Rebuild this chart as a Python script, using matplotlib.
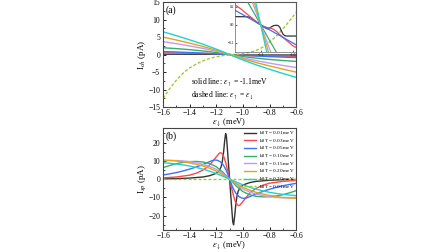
import matplotlib
matplotlib.use("Agg")
import matplotlib.pyplot as plt
from matplotlib.ticker import MultipleLocator

plt.rcParams['font.family'] = ['Liberation Serif', 'DejaVu Serif']
plt.rcParams['mathtext.fontset'] = 'stix'
plt.rcParams['axes.unicode_minus'] = True

# ---- data: panel (a), charge current ----
xa = [-1.6, -1.5, -1.4, -1.3, -1.2, -1.15, -1.1, -1.05, -1.0, -0.9, -0.8, -0.7, -0.6]
cyan_a = [6.5, 5.4, 4.2, 2.95, 1.55, 0.8, 0.0, -0.8, -1.55, -2.95, -4.2, -5.4, -6.5]
orange_a = [5.0, 4.15, 3.25, 2.3, 1.2, 0.62, 0.0, -0.62, -1.2, -2.3, -3.25, -4.15, -5.0]
purple_a = [3.7, 3.1, 2.45, 1.75, 0.92, 0.48, 0.0, -0.48, -0.92, -1.75, -2.45, -3.1, -3.7]
green_a = [1.95, 1.7, 1.4, 1.02, 0.58, 0.31, 0.0, -0.31, -0.58, -1.02, -1.4, -1.7, -1.95]
blue_a = [0.85, 0.73, 0.58, 0.4, 0.2, 0.1, 0.0, -0.1, -0.2, -0.4, -0.58, -0.73, -0.85]

x_red_a = [-1.6, -1.5, -1.4, -1.3, -1.2, -1.18, -1.16, -1.14, -1.12, -1.11, -1.1, -1.09,
           -1.08, -1.07, -1.06, -1.05, -1.04, -1.02, -1.0, -0.98, -0.9, -0.8, -0.7, -0.6]
red_a = [0.5, 0.46, 0.41, 0.34, 0.25, 0.22, 0.17, 0.11, 0.05, 0.02, 0.0, -0.02,
         -0.03, -0.035, -0.05, -0.075, -0.11, -0.17, -0.23, -0.27, -0.34, -0.41, -0.46, -0.5]

x_black_a = [-1.6, -1.3, -1.18, -1.14, -1.13, -1.12, -1.11, -1.1, -1.09, -1.08, -1.07,
             -1.06, -1.05, -1.045, -1.04, -1.035, -1.03, -1.025, -1.02, -0.6]
black_a = [0.1, 0.095, 0.09, 0.088, 0.08, 0.05, 0.025, 0.0, -0.025, -0.045, -0.03,
           -0.01, -0.005, -0.01, -0.03, -0.07, -0.105, -0.12, -0.124, -0.13]

x_dash_a = [-1.6, -1.55, -1.5, -1.45, -1.4, -1.35, -1.3, -1.25, -1.2, -1.15, -1.1,
            -1.05, -1.0, -0.95, -0.9, -0.85, -0.8, -0.75, -0.7, -0.65, -0.6]
dash_a = [-12.5, -9.7, -7.3, -5.3, -3.8, -2.7, -1.8, -1.1, -0.65, -0.3, -0.1,
          0.05, 0.25, 0.6, 1.2, 2.1, 3.6, 5.2, 7.3, 9.6, 12.0]

# ---- data: panel (b), spin current ----
xb = [-1.6, -1.55, -1.5, -1.45, -1.4, -1.35, -1.3, -1.25, -1.2, -1.15, -1.1,
      -1.05, -1.0, -0.95, -0.9, -0.85, -0.8, -0.75, -0.7, -0.65, -0.6]
green_b = [6.3, 7.5, 8.5, 9.2, 9.6, 9.7, 9.4, 8.5, 6.8, 3.8, 0.0,
           -3.8, -6.8, -8.5, -9.4, -9.7, -9.6, -9.2, -8.5, -7.5, -6.3]
purple_b = [10.0, 10.2, 10.2, 10.0, 9.6, 9.0, 8.1, 7.0, 5.4, 3.0, 0.0,
            -3.0, -5.4, -7.0, -8.1, -9.0, -9.6, -10.0, -10.2, -10.2, -10.0]
orange_b = [10.5, 10.3, 10.0, 9.5, 8.9, 8.1, 7.2, 6.0, 4.4, 2.4, 0.0,
            -2.4, -4.4, -6.0, -7.2, -8.1, -8.9, -9.5, -10.0, -10.3, -10.5]
cyan_b = [9.0, 8.7, 8.3, 7.8, 7.2, 6.4, 5.5, 4.4, 3.1, 1.6, 0.0,
          -1.6, -3.1, -4.4, -5.5, -6.4, -7.2, -7.8, -8.3, -8.7, -9.0]

x_blue_b = [-1.6, -1.55, -1.5, -1.45, -1.4, -1.35, -1.3, -1.26, -1.23, -1.21, -1.19,
            -1.17, -1.15, -1.13, -1.115, -1.1, -1.085, -1.07, -1.05, -1.03, -1.01,
            -0.99, -0.97, -0.94, -0.9, -0.85, -0.8, -0.75, -0.7, -0.65, -0.6]
blue_b = [2.3, 2.9, 3.6, 4.5, 5.5, 6.7, 8.0, 9.3, 10.2, 10.5, 10.3,
          9.5, 8.0, 5.6, 3.0, 0.0, -3.0, -5.6, -8.0, -9.5, -10.3,
          -10.5, -10.2, -9.3, -8.0, -6.7, -5.5, -4.5, -3.6, -2.9, -2.3]

x_red_b = [-1.6, -1.5, -1.4, -1.35, -1.3, -1.26, -1.23, -1.2, -1.18, -1.17, -1.16,
           -1.15, -1.14, -1.13, -1.12, -1.11, -1.1, -1.09, -1.08, -1.07, -1.06,
           -1.05, -1.04, -1.03, -1.02, -1.0, -0.97, -0.94, -0.9, -0.85, -0.8, -0.7, -0.6]
red_b = [0.7, 1.2, 2.2, 3.3, 5.0, 7.0, 9.5, 12.2, 14.0, 14.5, 14.2,
         13.2, 11.6, 9.2, 6.3, 3.2, 0.0, -3.2, -6.3, -9.2, -11.6,
         -13.2, -14.2, -14.5, -14.0, -12.2, -9.5, -7.0, -5.0, -3.3, -2.2, -1.2, -0.7]

x_black_b = [-1.6, -1.5, -1.4, -1.3, -1.25, -1.2, -1.18, -1.165, -1.155, -1.145, -1.137,
             -1.13, -1.124, -1.117, -1.11, -1.105, -1.1, -1.095, -1.09, -1.083, -1.076,
             -1.07, -1.063, -1.055, -1.045, -1.035, -1.02, -1.0, -0.95, -0.9, -0.8, -0.7, -0.6]
black_b = [0.2, 0.3, 0.6, 1.2, 1.9, 3.2, 4.5, 6.5, 9.5, 15, 21,
           25, 23.5, 17, 10, 5, 0, -5, -10, -17, -23.5,
           -25, -21, -15, -9.5, -6.5, -4.5, -3.2, -1.9, -1.2, -0.6, -0.3, -0.2]

x_dash_b = [-1.6, -0.6]
dash_b = [0.0, 0.0]

kt_labels = ["0.01", "0.03", "0.05", "0.10", "0.15", "0.20", "0.30", "0.01"]
colors = ["#333333", "#ff4646", "#3a72ff", "#35b06a", "#c49af0", "#e2a41c", "#1fd2d2", "#99cc33"]
dash_style = (0, (2.2, 1.4))

fig = plt.figure(figsize=(4.48, 2.52), dpi=100)
ax_a = fig.add_axes([0.364, 0.575, 0.297, 0.417])
ax_b = fig.add_axes([0.364, 0.086, 0.297, 0.406])

solid_a = [(x_black_a, black_a), (x_red_a, red_a), (xa, blue_a), (xa, green_a),
           (xa, purple_a), (xa, orange_a), (xa, cyan_a)]
for (xs, ys), c in zip(solid_a, colors):
    ax_a.plot(xs, ys, color=c, lw=1.0)
ax_a.plot(x_dash_a, dash_a, color=colors[7], lw=1.0, ls=dash_style)

solid_b = [(x_black_b, black_b), (x_red_b, red_b), (x_blue_b, blue_b), (xb, green_b),
           (xb, purple_b), (xb, orange_b), (xb, cyan_b)]
for (xs, ys), c, kt in zip(solid_b, colors, kt_labels):
    ax_b.plot(xs, ys, color=c, lw=1.0, label=r"k$_B$T = %s meV" % kt)
ax_b.plot(x_dash_b, dash_b, color=colors[7], lw=1.0, ls=dash_style,
          label=r"k$_B$T = %s meV" % kt_labels[7])

for ax in (ax_a, ax_b):
    ax.set_xlim(-1.6, -0.6)
    ax.xaxis.set_major_locator(MultipleLocator(0.2))
    ax.xaxis.set_minor_locator(MultipleLocator(0.1))
    ax.tick_params(which='both', direction='in', labelsize=5.5)
    ax.tick_params(axis='x', pad=1.2)
    ax.tick_params(axis='y', pad=2.2)
    ax.tick_params(which='major', length=2.2, width=0.6)
    ax.tick_params(which='minor', length=1.3, width=0.5)
    for s in ax.spines.values():
        s.set_linewidth(0.8)
        s.set_color("#444444")
    ax.set_xlabel(r"$\varepsilon_{\downarrow}$ (meV)", fontsize=6.0, labelpad=0.2)

ax_a.set_ylim(-15, 15)
ax_a.yaxis.set_major_locator(MultipleLocator(5))
ax_a.yaxis.set_minor_locator(MultipleLocator(2.5))
ax_a.set_ylabel(r"I$_{ch}$ (pA)", fontsize=6.5, labelpad=0.3)
ax_a.text(0.02, 0.97, "(a)", transform=ax_a.transAxes, fontsize=7, va='top')
ax_a.text(-1.39, -8.6, r"solid line: $\varepsilon_{\uparrow}$ = -1.1meV", fontsize=5.5)
ax_a.text(-1.39, -12.3, r"dashed line: $\varepsilon_{\uparrow}$ = $\varepsilon_{\downarrow}$", fontsize=5.5)

ax_b.set_ylim(-28, 28)
ax_b.yaxis.set_major_locator(MultipleLocator(10))
ax_b.yaxis.set_minor_locator(MultipleLocator(5))
ax_b.set_ylabel(r"I$_{sp}$ (pA)", fontsize=6.5, labelpad=0.3)
ax_b.text(0.02, 0.97, "(b)", transform=ax_b.transAxes, fontsize=7, va='top')
ax_b.legend(loc='upper right', fontsize=3.7, frameon=False, handlelength=2.4,
            labelspacing=0.02, handletextpad=0.6, borderaxespad=0.1, borderpad=0.15)

# inset: zoom near the crossing point
ax_in = fig.add_axes([0.5246, 0.7937, 0.136, 0.198])
ax_in.patch.set_alpha(0.0)
for (xs, ys), c in zip(solid_a, colors):
    ax_in.plot(xs, ys, color=c, lw=0.9)
ax_in.set_xlim(-1.18, -0.99)
ax_in.set_ylim(-0.3, 0.25)
ax_in.set_xticks([-1.1, -1.0])
ax_in.set_yticks([-0.2, 0.0, 0.2])
ax_in.tick_params(direction='in', labelsize=2.5, length=1.2, width=0.4, pad=0.5)
for s in ax_in.spines.values():
    s.set_linewidth(0.5)
    s.set_color("#666666")

fig.savefig("out.png", dpi=100)
